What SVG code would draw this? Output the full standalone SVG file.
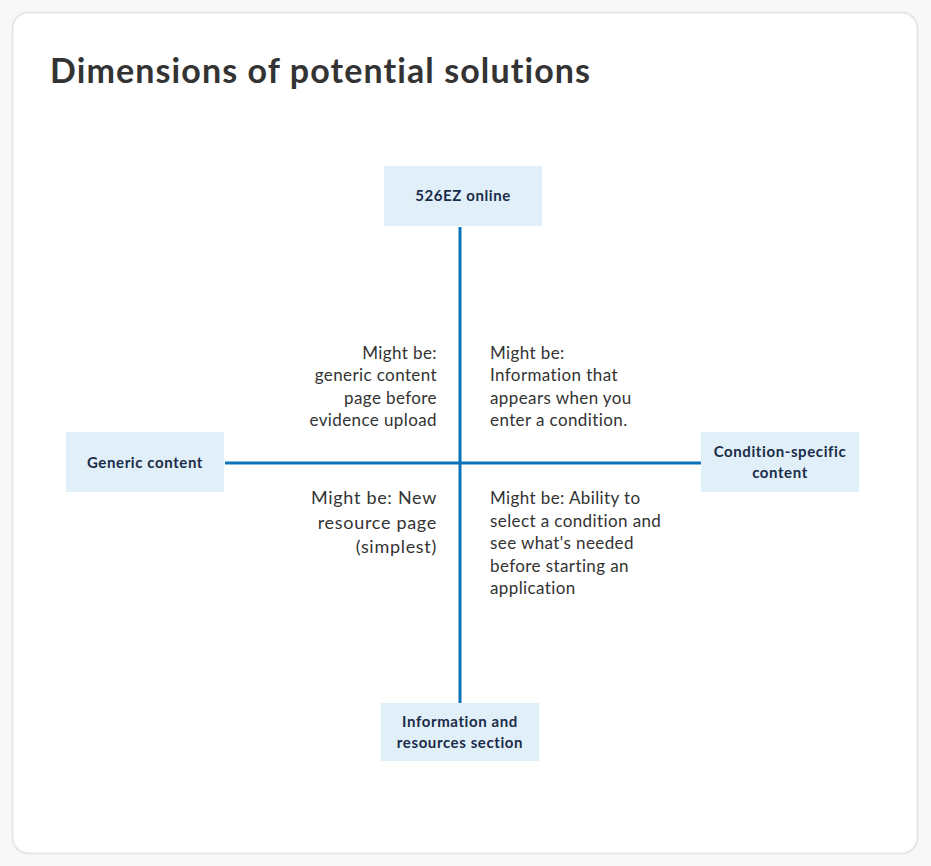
<svg xmlns="http://www.w3.org/2000/svg" width="931" height="866" viewBox="0 0 931 866">
<style>
.node rect{fill:#e1f0f8}
.nt{font-family:Lato,"Liberation Sans",sans-serif;font-weight:700;font-size:15px;letter-spacing:0.6px;fill:#1b2b4a;text-anchor:middle}
.t{font-family:Lato,"Liberation Sans",sans-serif;font-size:17px;letter-spacing:0.4px;fill:#333}
.r{text-anchor:end}
.big{font-size:18px;letter-spacing:0.7px}
.conn line{stroke:#0a72ba;stroke-width:3}
</style>
<rect width="931" height="866" fill="#f8f8f8"/>
<rect x="12.5" y="12.5" width="905" height="841" rx="16" fill="#fff" stroke="#e6e6e6" stroke-width="2"/>
<text x="50" y="83" font-family="Lato,'Liberation Sans',sans-serif" font-weight="700" font-size="34" letter-spacing="1.1" fill="#333">Dimensions of potential solutions</text>
<g class="conn">
<line x1="460" y1="227" x2="460" y2="703"/>
<line x1="225" y1="463" x2="701" y2="463"/>
</g>
<g id="n-526ez" class="node"><rect x="384" y="166" width="158" height="60"/><text class="nt" x="463" y="201">526EZ online</text></g>
<g id="n-generic" class="node"><rect x="66" y="432" width="158" height="60"/><text class="nt" x="145" y="468">Generic content</text></g>
<g id="n-condition" class="node"><rect x="701" y="432" width="158" height="60"/><text class="nt" x="780" y="457">Condition-specific</text><text class="nt" x="780" y="478">content</text></g>
<g id="n-info" class="node"><rect x="381" y="703" width="158" height="58"/><text class="nt" x="460" y="727">Information and</text><text class="nt" x="460" y="748">resources section</text></g>
<g id="labels">
<text class="t r" x="437" y="359">Might be:</text>
<text class="t r" x="437" y="381">generic content</text>
<text class="t r" x="437" y="404">page before</text>
<text class="t r" x="437" y="426">evidence upload</text>
<text class="t" x="490" y="359">Might be:</text>
<text class="t" x="490" y="381">Information that</text>
<text class="t" x="490" y="404">appears when you</text>
<text class="t" x="490" y="426">enter a condition.</text>
<text class="t r big" x="437" y="504">Might be: New</text>
<text class="t r big" x="437" y="529">resource page</text>
<text class="t r big" x="437" y="553">(simplest)</text>
<text class="t" x="490" y="504">Might be: Ability to</text>
<text class="t" x="490" y="527">select a condition and</text>
<text class="t" x="490" y="549">see what's needed</text>
<text class="t" x="490" y="572">before starting an</text>
<text class="t" x="490" y="594">application</text>
</g>
</svg>
